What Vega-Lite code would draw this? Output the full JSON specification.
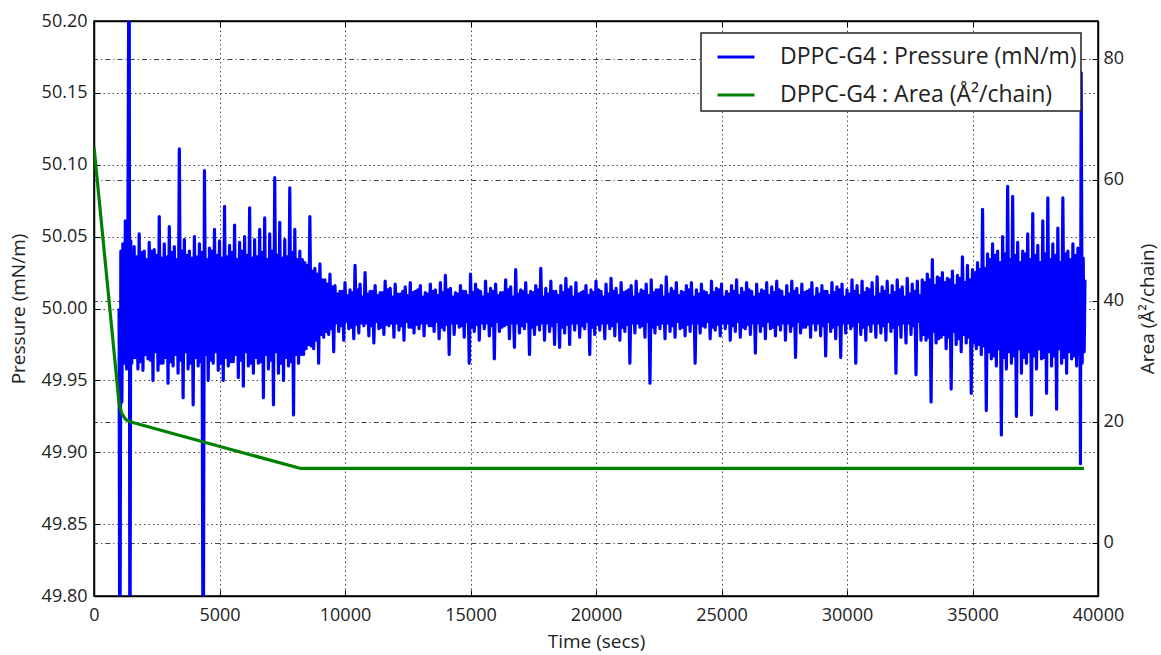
{
  "$schema": "https://vega.github.io/schema/vega-lite/v6.json",
  "autosize": {"type": "none"},
  "width": 1004,
  "height": 575,
  "padding": {"left": 94, "top": 21, "right": 63, "bottom": 59},
  "background": "white",
  "datasets": {
    "pressure": [
{"t":1000,"p":50.000},{"t":1030,"p":49.700},{"t":1070,"p":50.040},{"t":1110,"p":49.935},{"t":1150,"p":50.045},{"t":1200,"p":49.962},{"t":1250,"p":50.061},{"t":1300,"p":49.958},{"t":1350,"p":50.050},{"t":1400,"p":50.300},{"t":1430,"p":49.700},{"t":1465,"p":50.047},{"t":1505,"p":49.962},{"t":1530,"p":50.038},{"t":1555,"p":49.966},
{"t":1600,"p":50.043},{"t":1650,"p":49.966},{"t":1700,"p":50.036},{"t":1750,"p":49.958},
{"t":1800,"p":50.052},{"t":1850,"p":49.963},{"t":1900,"p":50.039},{"t":1950,"p":49.957},
{"t":2000,"p":50.040},{"t":2050,"p":49.968},{"t":2100,"p":50.034},{"t":2150,"p":49.965},
{"t":2200,"p":50.046},{"t":2250,"p":49.964},{"t":2300,"p":50.040},{"t":2350,"p":49.950},
{"t":2400,"p":50.041},{"t":2450,"p":49.970},{"t":2500,"p":50.037},{"t":2550,"p":49.957},
{"t":2600,"p":50.064},{"t":2650,"p":49.962},{"t":2700,"p":50.035},{"t":2750,"p":49.962},
{"t":2800,"p":50.045},{"t":2850,"p":49.966},{"t":2900,"p":50.036},{"t":2950,"p":49.948},
{"t":3000,"p":50.057},{"t":3050,"p":49.963},{"t":3100,"p":50.039},{"t":3150,"p":49.960},
{"t":3200,"p":50.043},{"t":3250,"p":49.968},{"t":3300,"p":50.034},{"t":3350,"p":49.955},
{"t":3400,"p":50.111},{"t":3450,"p":49.964},{"t":3500,"p":50.040},{"t":3550,"p":49.938},
{"t":3600,"p":50.048},{"t":3650,"p":49.970},{"t":3700,"p":50.037},{"t":3750,"p":49.958},
{"t":3800,"p":50.040},{"t":3850,"p":49.962},{"t":3900,"p":50.035},{"t":3950,"p":49.933},
{"t":4000,"p":50.050},{"t":4050,"p":49.966},{"t":4100,"p":50.036},{"t":4150,"p":49.960},
{"t":4200,"p":50.045},{"t":4250,"p":49.963},{"t":4300,"p":50.039},{"t":4350,"p":49.700},
{"t":4400,"p":50.096},{"t":4450,"p":49.968},{"t":4500,"p":50.034},{"t":4550,"p":49.950},
{"t":4600,"p":50.042},{"t":4650,"p":49.964},{"t":4700,"p":50.040},{"t":4750,"p":49.962},
{"t":4800,"p":50.055},{"t":4850,"p":49.970},{"t":4900,"p":50.037},{"t":4950,"p":49.957},
{"t":5000,"p":50.047},{"t":5050,"p":49.962},{"t":5100,"p":50.035},{"t":5150,"p":49.950},
{"t":5200,"p":50.071},{"t":5250,"p":49.966},{"t":5300,"p":50.036},{"t":5350,"p":49.960},
{"t":5400,"p":50.044},{"t":5450,"p":49.963},{"t":5500,"p":50.039},{"t":5550,"p":49.963},
{"t":5600,"p":50.058},{"t":5650,"p":49.968},{"t":5700,"p":50.034},{"t":5750,"p":49.952},
{"t":5800,"p":50.046},{"t":5850,"p":49.964},{"t":5900,"p":50.040},{"t":5950,"p":49.946},
{"t":6000,"p":50.050},{"t":6050,"p":49.970},{"t":6100,"p":50.037},{"t":6150,"p":49.960},
{"t":6200,"p":50.070},{"t":6250,"p":49.962},{"t":6300,"p":50.035},{"t":6350,"p":49.955},
{"t":6400,"p":50.048},{"t":6450,"p":49.966},{"t":6500,"p":50.036},{"t":6550,"p":49.962},
{"t":6600,"p":50.055},{"t":6650,"p":49.963},{"t":6700,"p":50.039},{"t":6750,"p":49.938},
{"t":6800,"p":50.063},{"t":6850,"p":49.968},{"t":6900,"p":50.034},{"t":6950,"p":49.958},
{"t":7000,"p":50.052},{"t":7050,"p":49.964},{"t":7100,"p":50.040},{"t":7150,"p":49.933},
{"t":7200,"p":50.091},{"t":7250,"p":49.970},{"t":7300,"p":50.037},{"t":7350,"p":49.955},
{"t":7400,"p":50.060},{"t":7450,"p":49.962},{"t":7500,"p":50.035},{"t":7550,"p":49.950},
{"t":7600,"p":50.048},{"t":7650,"p":49.966},{"t":7700,"p":50.036},{"t":7750,"p":49.960},
{"t":7800,"p":50.084},{"t":7850,"p":49.963},{"t":7900,"p":50.039},{"t":7950,"p":49.926},
{"t":8000,"p":50.055},{"t":8050,"p":49.968},{"t":8100,"p":50.034},{"t":8150,"p":49.962},
{"t":8200,"p":50.040},{"t":8250,"p":49.968},{"t":8300,"p":50.034},{"t":8350,"p":49.968},
{"t":8400,"p":50.032},{"t":8450,"p":49.972},{"t":8500,"p":50.030},{"t":8550,"p":49.975},
{"t":8600,"p":50.064},{"t":8650,"p":49.974},{"t":8700,"p":50.026},{"t":8750,"p":49.972},
{"t":8800,"p":50.028},{"t":8850,"p":49.978},{"t":8900,"p":50.024},{"t":8950,"p":49.962},
{"t":9000,"p":50.031},{"t":9050,"p":49.982},{"t":9100,"p":50.020},{"t":9150,"p":49.980},
{"t":9200,"p":50.020},{"t":9250,"p":49.984},{"t":9300,"p":50.017},{"t":9350,"p":49.982},
{"t":9400,"p":50.024},{"t":9450,"p":49.986},{"t":9500,"p":50.015},{"t":9550,"p":49.970},
{"t":9600,"p":50.016},{"t":9650,"p":49.990},{"t":9700,"p":50.010},{"t":9750,"p":49.984},
{"t":9800,"p":50.012},{"t":9850,"p":49.988},{"t":9900,"p":50.012},{"t":9950,"p":49.978},
{"t":10000,"p":50.018},{"t":10050,"p":49.991},{"t":10100,"p":50.009},{"t":10150,"p":49.986},
{"t":10200,"p":50.013},{"t":10250,"p":49.987},{"t":10300,"p":50.011},{"t":10350,"p":49.979},
{"t":10400,"p":50.030},{"t":10450,"p":49.989},{"t":10500,"p":50.013},{"t":10550,"p":49.983},
{"t":10600,"p":50.017},{"t":10650,"p":49.990},{"t":10700,"p":50.008},{"t":10750,"p":49.988},
{"t":10800,"p":50.025},{"t":10850,"p":49.990},{"t":10900,"p":50.010},{"t":10950,"p":49.981},
{"t":11000,"p":50.012},{"t":11050,"p":49.988},{"t":11100,"p":50.012},{"t":11150,"p":49.976},
{"t":11200,"p":50.016},{"t":11250,"p":49.991},{"t":11300,"p":50.009},{"t":11350,"p":49.986},
{"t":11400,"p":50.011},{"t":11450,"p":49.987},{"t":11500,"p":50.011},{"t":11550,"p":49.982},
{"t":11600,"p":50.019},{"t":11650,"p":49.989},{"t":11700,"p":50.013},{"t":11750,"p":49.988},
{"t":11800,"p":50.014},{"t":11850,"p":49.990},{"t":11900,"p":50.008},{"t":11950,"p":49.980},
{"t":12000,"p":50.017},{"t":12050,"p":49.990},{"t":12100,"p":50.010},{"t":12150,"p":49.985},
{"t":12200,"p":50.010},{"t":12250,"p":49.988},{"t":12300,"p":50.012},{"t":12350,"p":49.978},
{"t":12400,"p":50.015},{"t":12450,"p":49.991},{"t":12500,"p":50.009},{"t":12550,"p":49.987},
{"t":12600,"p":50.018},{"t":12650,"p":49.987},{"t":12700,"p":50.011},{"t":12750,"p":49.983},
{"t":12800,"p":50.012},{"t":12850,"p":49.989},{"t":12900,"p":50.013},{"t":12950,"p":49.986},
{"t":13000,"p":50.016},{"t":13050,"p":49.990},{"t":13100,"p":50.008},{"t":13150,"p":49.981},
{"t":13200,"p":50.011},{"t":13250,"p":49.990},{"t":13300,"p":50.010},{"t":13350,"p":49.988},
{"t":13400,"p":50.017},{"t":13450,"p":49.988},{"t":13500,"p":50.012},{"t":13550,"p":49.984},
{"t":13600,"p":50.013},{"t":13650,"p":49.991},{"t":13700,"p":50.009},{"t":13750,"p":49.979},
{"t":13800,"p":50.018},{"t":13850,"p":49.987},{"t":13900,"p":50.011},{"t":13950,"p":49.985},
{"t":14000,"p":50.023},{"t":14050,"p":49.989},{"t":14100,"p":50.013},{"t":14150,"p":49.968},
{"t":14200,"p":50.014},{"t":14250,"p":49.990},{"t":14300,"p":50.008},{"t":14350,"p":49.982},
{"t":14400,"p":50.011},{"t":14450,"p":49.990},{"t":14500,"p":50.010},{"t":14550,"p":49.987},
{"t":14600,"p":50.016},{"t":14650,"p":49.988},{"t":14700,"p":50.012},{"t":14750,"p":49.980},
{"t":14800,"p":50.012},{"t":14850,"p":49.991},{"t":14900,"p":50.009},{"t":14950,"p":49.962},
{"t":15000,"p":50.024},{"t":15050,"p":49.987},{"t":15100,"p":50.011},{"t":15150,"p":49.984},
{"t":15200,"p":50.017},{"t":15250,"p":49.989},{"t":15300,"p":50.013},{"t":15350,"p":49.978},
{"t":15400,"p":50.012},{"t":15450,"p":49.990},{"t":15500,"p":50.008},{"t":15550,"p":49.986},
{"t":15600,"p":50.019},{"t":15650,"p":49.990},{"t":15700,"p":50.010},{"t":15750,"p":49.981},
{"t":15800,"p":50.014},{"t":15850,"p":49.988},{"t":15900,"p":50.012},{"t":15950,"p":49.965},
{"t":16000,"p":50.017},{"t":16050,"p":49.991},{"t":16100,"p":50.009},{"t":16150,"p":49.984},
{"t":16200,"p":50.011},{"t":16250,"p":49.987},{"t":16300,"p":50.011},{"t":16350,"p":49.988},
{"t":16400,"p":50.020},{"t":16450,"p":49.989},{"t":16500,"p":50.013},{"t":16550,"p":49.979},
{"t":16600,"p":50.015},{"t":16650,"p":49.990},{"t":16700,"p":50.008},{"t":16750,"p":49.973},
{"t":16800,"p":50.027},{"t":16850,"p":49.990},{"t":16900,"p":50.010},{"t":16950,"p":49.983},
{"t":17000,"p":50.013},{"t":17050,"p":49.988},{"t":17100,"p":50.012},{"t":17150,"p":49.986},
{"t":17200,"p":50.018},{"t":17250,"p":49.991},{"t":17300,"p":50.009},{"t":17350,"p":49.968},
{"t":17400,"p":50.012},{"t":17450,"p":49.987},{"t":17500,"p":50.011},{"t":17550,"p":49.982},
{"t":17600,"p":50.016},{"t":17650,"p":49.989},{"t":17700,"p":50.013},{"t":17750,"p":49.985},
{"t":17800,"p":50.028},{"t":17850,"p":49.990},{"t":17900,"p":50.008},{"t":17950,"p":49.978},
{"t":18000,"p":50.014},{"t":18050,"p":49.990},{"t":18100,"p":50.010},{"t":18150,"p":49.984},
{"t":18200,"p":50.019},{"t":18250,"p":49.988},{"t":18300,"p":50.012},{"t":18350,"p":49.975},
{"t":18400,"p":50.012},{"t":18450,"p":49.991},{"t":18500,"p":50.009},{"t":18550,"p":49.973},
{"t":18600,"p":50.016},{"t":18650,"p":49.987},{"t":18700,"p":50.011},{"t":18750,"p":49.983},
{"t":18800,"p":50.021},{"t":18850,"p":49.989},{"t":18900,"p":50.013},{"t":18950,"p":49.975},
{"t":19000,"p":50.015},{"t":19050,"p":49.990},{"t":19100,"p":50.008},{"t":19150,"p":49.985},
{"t":19200,"p":50.018},{"t":19250,"p":49.990},{"t":19300,"p":50.010},{"t":19350,"p":49.980},
{"t":19400,"p":50.011},{"t":19450,"p":49.988},{"t":19500,"p":50.012},{"t":19550,"p":49.986},
{"t":19600,"p":50.016},{"t":19650,"p":49.991},{"t":19700,"p":50.009},{"t":19750,"p":49.968},
{"t":19800,"p":50.013},{"t":19850,"p":49.987},{"t":19900,"p":50.011},{"t":19950,"p":49.982},
{"t":20000,"p":50.019},{"t":20050,"p":49.989},{"t":20100,"p":50.013},{"t":20150,"p":49.985},
{"t":20200,"p":50.012},{"t":20250,"p":49.990},{"t":20300,"p":50.008},{"t":20350,"p":49.979},
{"t":20400,"p":50.017},{"t":20450,"p":49.990},{"t":20500,"p":50.010},{"t":20550,"p":49.986},
{"t":20600,"p":50.021},{"t":20650,"p":49.988},{"t":20700,"p":50.012},{"t":20750,"p":49.981},
{"t":20800,"p":50.014},{"t":20850,"p":49.991},{"t":20900,"p":50.009},{"t":20950,"p":49.978},
{"t":21000,"p":50.018},{"t":21050,"p":49.987},{"t":21100,"p":50.011},{"t":21150,"p":49.984},
{"t":21200,"p":50.012},{"t":21250,"p":49.989},{"t":21300,"p":50.013},{"t":21350,"p":49.962},
{"t":21400,"p":50.016},{"t":21450,"p":49.990},{"t":21500,"p":50.008},{"t":21550,"p":49.983},
{"t":21600,"p":50.019},{"t":21650,"p":49.990},{"t":21700,"p":50.010},{"t":21750,"p":49.987},
{"t":21800,"p":50.013},{"t":21850,"p":49.988},{"t":21900,"p":50.012},{"t":21950,"p":49.980},
{"t":22000,"p":50.017},{"t":22050,"p":49.991},{"t":22100,"p":50.009},{"t":22150,"p":49.948},
{"t":22200,"p":50.020},{"t":22250,"p":49.987},{"t":22300,"p":50.011},{"t":22350,"p":49.983},
{"t":22400,"p":50.013},{"t":22450,"p":49.989},{"t":22500,"p":50.013},{"t":22550,"p":49.986},
{"t":22600,"p":50.016},{"t":22650,"p":49.990},{"t":22700,"p":50.008},{"t":22750,"p":49.979},
{"t":22800,"p":50.022},{"t":22850,"p":49.990},{"t":22900,"p":50.010},{"t":22950,"p":49.984},
{"t":23000,"p":50.014},{"t":23050,"p":49.988},{"t":23100,"p":50.012},{"t":23150,"p":49.980},
{"t":23200,"p":50.018},{"t":23250,"p":49.991},{"t":23300,"p":50.009},{"t":23350,"p":49.986},
{"t":23400,"p":50.012},{"t":23450,"p":49.987},{"t":23500,"p":50.011},{"t":23550,"p":49.981},
{"t":23600,"p":50.016},{"t":23650,"p":49.989},{"t":23700,"p":50.013},{"t":23750,"p":49.984},
{"t":23800,"p":50.018},{"t":23850,"p":49.990},{"t":23900,"p":50.008},{"t":23950,"p":49.962},
{"t":24000,"p":50.013},{"t":24050,"p":49.990},{"t":24100,"p":50.010},{"t":24150,"p":49.983},
{"t":24200,"p":50.017},{"t":24250,"p":49.988},{"t":24300,"p":50.012},{"t":24350,"p":49.987},
{"t":24400,"p":50.011},{"t":24450,"p":49.991},{"t":24500,"p":50.009},{"t":24550,"p":49.979},
{"t":24600,"p":50.019},{"t":24650,"p":49.987},{"t":24700,"p":50.011},{"t":24750,"p":49.985},
{"t":24800,"p":50.014},{"t":24850,"p":49.989},{"t":24900,"p":50.013},{"t":24950,"p":49.981},
{"t":25000,"p":50.017},{"t":25050,"p":49.990},{"t":25100,"p":50.008},{"t":25150,"p":49.986},
{"t":25200,"p":50.012},{"t":25250,"p":49.990},{"t":25300,"p":50.010},{"t":25350,"p":49.978},
{"t":25400,"p":50.016},{"t":25450,"p":49.988},{"t":25500,"p":50.012},{"t":25550,"p":49.984},
{"t":25600,"p":50.020},{"t":25650,"p":49.991},{"t":25700,"p":50.009},{"t":25750,"p":49.980},
{"t":25800,"p":50.014},{"t":25850,"p":49.987},{"t":25900,"p":50.011},{"t":25950,"p":49.986},
{"t":26000,"p":50.018},{"t":26050,"p":49.989},{"t":26100,"p":50.013},{"t":26150,"p":49.982},
{"t":26200,"p":50.012},{"t":26250,"p":49.990},{"t":26300,"p":50.008},{"t":26350,"p":49.969},
{"t":26400,"p":50.017},{"t":26450,"p":49.990},{"t":26500,"p":50.010},{"t":26550,"p":49.984},
{"t":26600,"p":50.013},{"t":26650,"p":49.988},{"t":26700,"p":50.012},{"t":26750,"p":49.979},
{"t":26800,"p":50.018},{"t":26850,"p":49.991},{"t":26900,"p":50.009},{"t":26950,"p":49.986},
{"t":27000,"p":50.015},{"t":27050,"p":49.987},{"t":27100,"p":50.011},{"t":27150,"p":49.981},
{"t":27200,"p":50.019},{"t":27250,"p":49.989},{"t":27300,"p":50.013},{"t":27350,"p":49.985},
{"t":27400,"p":50.012},{"t":27450,"p":49.990},{"t":27500,"p":50.008},{"t":27550,"p":49.978},
{"t":27600,"p":50.016},{"t":27650,"p":49.990},{"t":27700,"p":50.010},{"t":27750,"p":49.984},
{"t":27800,"p":50.019},{"t":27850,"p":49.988},{"t":27900,"p":50.012},{"t":27950,"p":49.966},
{"t":28000,"p":50.014},{"t":28050,"p":49.991},{"t":28100,"p":50.009},{"t":28150,"p":49.983},
{"t":28200,"p":50.017},{"t":28250,"p":49.987},{"t":28300,"p":50.011},{"t":28350,"p":49.987},
{"t":28400,"p":50.012},{"t":28450,"p":49.989},{"t":28500,"p":50.013},{"t":28550,"p":49.980},
{"t":28600,"p":50.018},{"t":28650,"p":49.990},{"t":28700,"p":50.008},{"t":28750,"p":49.985},
{"t":28800,"p":50.014},{"t":28850,"p":49.990},{"t":28900,"p":50.010},{"t":28950,"p":49.981},
{"t":29000,"p":50.016},{"t":29050,"p":49.988},{"t":29100,"p":50.012},{"t":29150,"p":49.967},
{"t":29200,"p":50.012},{"t":29250,"p":49.991},{"t":29300,"p":50.009},{"t":29350,"p":49.984},
{"t":29400,"p":50.018},{"t":29450,"p":49.987},{"t":29500,"p":50.011},{"t":29550,"p":49.979},
{"t":29600,"p":50.015},{"t":29650,"p":49.989},{"t":29700,"p":50.013},{"t":29750,"p":49.966},
{"t":29800,"p":50.017},{"t":29850,"p":49.990},{"t":29900,"p":50.008},{"t":29950,"p":49.983},
{"t":30000,"p":50.013},{"t":30050,"p":49.990},{"t":30100,"p":50.010},{"t":30150,"p":49.986},
{"t":30200,"p":50.020},{"t":30250,"p":49.988},{"t":30300,"p":50.012},{"t":30350,"p":49.962},
{"t":30400,"p":50.016},{"t":30450,"p":49.991},{"t":30500,"p":50.009},{"t":30550,"p":49.982},
{"t":30600,"p":50.019},{"t":30650,"p":49.987},{"t":30700,"p":50.011},{"t":30750,"p":49.978},
{"t":30800,"p":50.014},{"t":30850,"p":49.989},{"t":30900,"p":50.013},{"t":30950,"p":49.984},
{"t":31000,"p":50.018},{"t":31050,"p":49.990},{"t":31100,"p":50.008},{"t":31150,"p":49.980},
{"t":31200,"p":50.022},{"t":31250,"p":49.990},{"t":31300,"p":50.010},{"t":31350,"p":49.983},
{"t":31400,"p":50.015},{"t":31450,"p":49.988},{"t":31500,"p":50.012},{"t":31550,"p":49.978},
{"t":31600,"p":50.019},{"t":31650,"p":49.991},{"t":31700,"p":50.009},{"t":31750,"p":49.984},
{"t":31800,"p":50.016},{"t":31850,"p":49.987},{"t":31900,"p":50.011},{"t":31950,"p":49.955},
{"t":32000,"p":50.020},{"t":32050,"p":49.989},{"t":32100,"p":50.013},{"t":32150,"p":49.980},
{"t":32200,"p":50.015},{"t":32250,"p":49.990},{"t":32300,"p":50.008},{"t":32350,"p":49.976},
{"t":32400,"p":50.021},{"t":32450,"p":49.990},{"t":32500,"p":50.010},{"t":32550,"p":49.982},
{"t":32600,"p":50.017},{"t":32650,"p":49.988},{"t":32700,"p":50.012},{"t":32750,"p":49.954},
{"t":32800,"p":50.019},{"t":32850,"p":49.991},{"t":32900,"p":50.009},{"t":32950,"p":49.978},
{"t":33000,"p":50.020},{"t":33050,"p":49.982},{"t":33100,"p":50.018},{"t":33150,"p":49.978},
{"t":33200,"p":50.024},{"t":33250,"p":49.980},{"t":33300,"p":50.020},{"t":33350,"p":49.935},
{"t":33400,"p":50.034},{"t":33450,"p":49.984},{"t":33500,"p":50.016},{"t":33550,"p":49.976},
{"t":33600,"p":50.022},{"t":33650,"p":49.979},{"t":33700,"p":50.021},{"t":33750,"p":49.980},
{"t":33800,"p":50.025},{"t":33850,"p":49.982},{"t":33900,"p":50.018},{"t":33950,"p":49.972},
{"t":34000,"p":50.021},{"t":34050,"p":49.980},{"t":34100,"p":50.020},{"t":34150,"p":49.944},
{"t":34200,"p":50.026},{"t":34250,"p":49.984},{"t":34300,"p":50.016},{"t":34350,"p":49.975},
{"t":34400,"p":50.023},{"t":34450,"p":49.979},{"t":34500,"p":50.021},{"t":34550,"p":49.970},
{"t":34600,"p":50.036},{"t":34650,"p":49.982},{"t":34700,"p":50.018},{"t":34750,"p":49.976},
{"t":34800,"p":50.030},{"t":34850,"p":49.980},{"t":34900,"p":50.020},{"t":34950,"p":49.941},
{"t":35000,"p":50.027},{"t":35050,"p":49.976},{"t":35100,"p":50.025},{"t":35150,"p":49.972},
{"t":35200,"p":50.032},{"t":35250,"p":49.975},{"t":35300,"p":50.027},{"t":35350,"p":49.968},
{"t":35400,"p":50.069},{"t":35450,"p":49.974},{"t":35500,"p":50.028},{"t":35550,"p":49.929},
{"t":35600,"p":50.038},{"t":35650,"p":49.970},{"t":35700,"p":50.034},{"t":35750,"p":49.965},
{"t":35800,"p":50.045},{"t":35850,"p":49.967},{"t":35900,"p":50.037},{"t":35950,"p":49.960},
{"t":36000,"p":50.040},{"t":36050,"p":49.972},{"t":36100,"p":50.032},{"t":36150,"p":49.912},
{"t":36200,"p":50.050},{"t":36250,"p":49.966},{"t":36300,"p":50.038},{"t":36350,"p":49.958},
{"t":36400,"p":50.085},{"t":36450,"p":49.970},{"t":36500,"p":50.034},{"t":36550,"p":49.962},
{"t":36600,"p":50.078},{"t":36650,"p":49.967},{"t":36700,"p":50.037},{"t":36750,"p":49.925},
{"t":36800,"p":50.046},{"t":36850,"p":49.972},{"t":36900,"p":50.032},{"t":36950,"p":49.955},
{"t":37000,"p":50.040},{"t":37050,"p":49.966},{"t":37100,"p":50.038},{"t":37150,"p":49.962},
{"t":37200,"p":50.052},{"t":37250,"p":49.970},{"t":37300,"p":50.034},{"t":37350,"p":49.926},
{"t":37400,"p":50.066},{"t":37450,"p":49.967},{"t":37500,"p":50.037},{"t":37550,"p":49.958},
{"t":37600,"p":50.044},{"t":37650,"p":49.972},{"t":37700,"p":50.032},{"t":37750,"p":49.965},
{"t":37800,"p":50.061},{"t":37850,"p":49.966},{"t":37900,"p":50.038},{"t":37950,"p":49.941},
{"t":38000,"p":50.077},{"t":38050,"p":49.970},{"t":38100,"p":50.034},{"t":38150,"p":49.960},
{"t":38200,"p":50.045},{"t":38250,"p":49.967},{"t":38300,"p":50.037},{"t":38350,"p":49.930},
{"t":38400,"p":50.056},{"t":38450,"p":49.972},{"t":38500,"p":50.032},{"t":38550,"p":49.962},
{"t":38600,"p":50.077},{"t":38650,"p":49.966},{"t":38700,"p":50.038},{"t":38750,"p":49.955},
{"t":38800,"p":50.040},{"t":38850,"p":49.970},{"t":38900,"p":50.034},{"t":38950,"p":49.965},
{"t":39000,"p":50.045},{"t":39050,"p":49.967},{"t":39100,"p":50.037},{"t":39150,"p":49.960},
{"t":39200,"p":50.042},{"t":39240,"p":49.968},{"t":39280,"p":50.038},{"t":39300,"p":49.892},{"t":39330,"p":50.164},{"t":39370,"p":49.962},{"t":39410,"p":50.035},{"t":39450,"p":49.970},{"t":39480,"p":50.020}
    ],
    "area": [
      {"t":0,"a":65.4},{"t":1000,"a":23.0},{"t":1100,"a":21.4},{"t":1250,"a":20.4},{"t":1434,"a":20.0},{"t":4223,"a":16.8},{"t":8207,"a":12.3},{"t":39440,"a":12.3}
    ]
  },
  "layer": [
    {
      "data": {"name": "pressure"},
      "mark": {"type": "line", "strokeWidth": 3.2, "strokeJoin": "round", "clip": true},
      "encoding": {
        "x": {
          "field": "t", "type": "quantitative",
          "scale": {"domain": [0, 40000], "nice": false, "zero": false},
          "axis": {
            "orient": "bottom",
            "values": [0, 5000, 10000, 15000, 20000, 25000, 30000, 35000, 40000],
            "format": "d",
            "title": "Time (secs)",
            "grid": true, "gridDash": [1.5, 3], "gridColor": "#444", "gridWidth": 1,
            "tickSize": -6, "labelPadding": 16, "titlePadding": 8, "labelFlush": false
          }
        },
        "y": {
          "field": "p", "type": "quantitative",
          "scale": {"domain": [49.8, 50.2], "nice": false, "zero": false},
          "axis": {
            "orient": "left",
            "values": [49.8, 49.85, 49.9, 49.95, 50, 50.05, 50.1, 50.15, 50.2],
            "format": ".2f",
            "title": "Pressure (mN/m)",
            "grid": true, "gridDash": [1.5, 3], "gridColor": "#444", "gridWidth": 1,
            "tickSize": -6, "labelPadding": 13, "titlePadding": 13
          }
        },
        "color": {
          "datum": "DPPC-G4 : Pressure (mN/m)", "type": "nominal",
          "scale": {"domain": ["DPPC-G4 : Pressure (mN/m)", "DPPC-G4 : Area (Å²/chain)"], "range": ["#0000ff", "#008000"]},
          "legend": {"orient": "none", "legendX": 607, "legendY": 12, "title": null}
        }
      }
    },
    {
      "data": {"name": "area"},
      "mark": {"type": "line", "strokeWidth": 3.2, "strokeJoin": "round", "clip": true},
      "encoding": {
        "x": {
          "field": "t", "type": "quantitative",
          "scale": {"domain": [0, 40000], "nice": false, "zero": false},
          "axis": {
            "orient": "top", "labels": false, "title": null, "grid": false,
            "values": [0, 5000, 10000, 15000, 20000, 25000, 30000, 35000, 40000],
            "tickSize": -6
          }
        },
        "y": {
          "field": "a", "type": "quantitative",
          "scale": {"domain": [-8.8, 86.2], "nice": false, "zero": false},
          "axis": {
            "orient": "right",
            "values": [0, 20, 40, 60, 80],
            "title": "Area (Å²/chain)",
            "titleAngle": 270, "titleBaseline": "top",
            "grid": true, "gridDash": [5, 3, 1.2, 3], "gridColor": "#444", "gridWidth": 1,
            "tickSize": -6, "labelPadding": 11, "titlePadding": 15
          }
        },
        "color": {"datum": "DPPC-G4 : Area (Å²/chain)", "type": "nominal"}
      }
    }
  ],
  "resolve": {"scale": {"y": "independent"}, "axis": {"y": "independent", "x": "independent"}},
  "config": {
    "font": "Open Sans",
    "view": {"stroke": "#000", "strokeWidth": 1.5},
    "axis": {
      "labelFont": "Open Sans", "labelFontSize": 18, "labelColor": "#222",
      "titleFont": "Open Sans", "titleFontSize": 19, "titleFontWeight": "normal", "titleColor": "#222",
      "domainColor": "#000", "domainWidth": 1.5, "tickColor": "#000", "tickWidth": 1,
      "labelOverlap": false, "labelFlush": false
    },
    "legend": {
      "labelFont": "Open Sans", "labelFontSize": 23, "labelColor": "#222", "labelLimit": 600,
      "symbolType": "stroke", "symbolSize": 1369, "symbolStrokeWidth": 3,
      "symbolOffset": 11, "labelOffset": 24, "padding": 4, "rowPadding": 6,
      "strokeColor": "#222", "strokeWidth": 1.5, "fillColor": "white", "cornerRadius": 0
    }
  }
}
